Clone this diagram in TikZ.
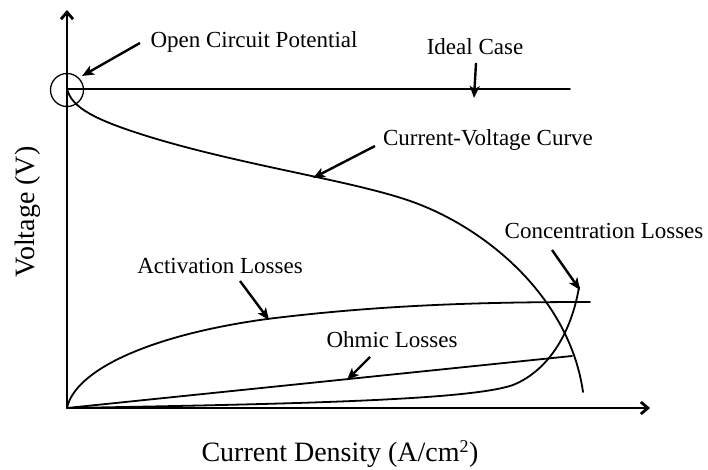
\documentclass[tikz,border=0pt]{standalone}
\usepackage{fontspec}
\setmainfont{Liberation Serif}
\usetikzlibrary{arrows.meta}
\begin{document}
\begin{tikzpicture}[x=1pt,y=-1pt,
  lbl/.style={font=\fontsize{23}{26}\selectfont,inner sep=0pt},
  biglbl/.style={font=\fontsize{28}{32}\selectfont,inner sep=0pt},
  curve/.style={line width=1.8pt,line cap=round},
  pointer/.style={line width=2.4pt,-{Stealth[length=12pt,width=10pt,inset=3pt]}},
  axis/.style={line width=2.8pt,-{Straight Barb[length=7pt,width=12pt]}}]
\useasboundingbox (0,0) rectangle (708,470);
\coordinate (O) at (67,408);
\coordinate (ytop) at (67,10);
\coordinate (xend) at (650,408);
\draw[axis] (O) -- (ytop);
\draw[axis] (O) -- (xend);
% ideal case
\coordinate (i1) at (67,89);
\coordinate (i2) at (570,89);
\draw[curve] (i1) -- (i2);
\node[draw,circle,line width=1.3pt,minimum size=33pt,inner sep=0pt] (ocpc) at (67,90) {};
% labels
\node[lbl] (ocp) at (254,42) {Open Circuit Potential};
\node[lbl] (ideal) at (475,47) {Ideal Case};
\node[lbl] (cvc) at (488,140) {Current-Voltage Curve};
\node[lbl] (conc) at (604,231) {Concentration Losses};
\node[lbl] (act) at (220,266) {Activation Losses};
\node[lbl] (ohm) at (392,340) {Ohmic Losses};
\node[biglbl,rotate=90] (vlab) at (28,212) {Voltage (V)};
\node[biglbl] (xlab) at (340,454) {Current Density (A/cm\textsuperscript{\fontsize{18}{20}\selectfont 2})};
% current-voltage curve
\coordinate (cv0) at (67,89);
\coordinate (cv1) at (150,137);
\coordinate (cv2) at (413,202);
\coordinate (cv3) at (583,392);
\draw[curve] (cv0) .. controls (72,108) and (95,120) .. (cv1)
  .. controls (245,166) and (355,181) .. (cv2)
  .. controls (490,230) and (570,300) .. (cv3);
% activation losses
\coordinate (ac1) at (267,319);
\coordinate (ac2) at (590,302);
\draw[curve] (O) .. controls (75,370) and (150,335) .. (ac1)
  .. controls (380,305) and (480,302) .. (ac2);
% ohmic losses
\coordinate (oh2) at (572,356);
\draw[curve] (O) -- (oh2);
% concentration losses
\coordinate (co1) at (513,385);
\coordinate (co2) at (579,287);
\draw[curve] (O) .. controls (300,404) and (470,400) .. (co1)
  .. controls (550,370) and (572,330) .. (co2);
% pointers
\coordinate (p1a) at (140,43); \coordinate (p1b) at (82,76);
\draw[pointer] (p1a) -- (p1b);
\coordinate (p2a) at (476,63); \coordinate (p2b) at (474,98);
\draw[pointer] (p2a) -- (p2b);
\coordinate (p3a) at (375,146); \coordinate (p3b) at (313,178);
\draw[pointer] (p3a) -- (p3b);
\coordinate (p4a) at (240,281); \coordinate (p4b) at (269,320);
\draw[pointer] (p4a) -- (p4b);
\coordinate (p5a) at (370,357); \coordinate (p5b) at (347,380);
\draw[pointer] (p5a) -- (p5b);
\coordinate (p6a) at (552,250); \coordinate (p6b) at (580,290);
\draw[pointer] (p6a) -- (p6b);
\end{tikzpicture}
\end{document}
